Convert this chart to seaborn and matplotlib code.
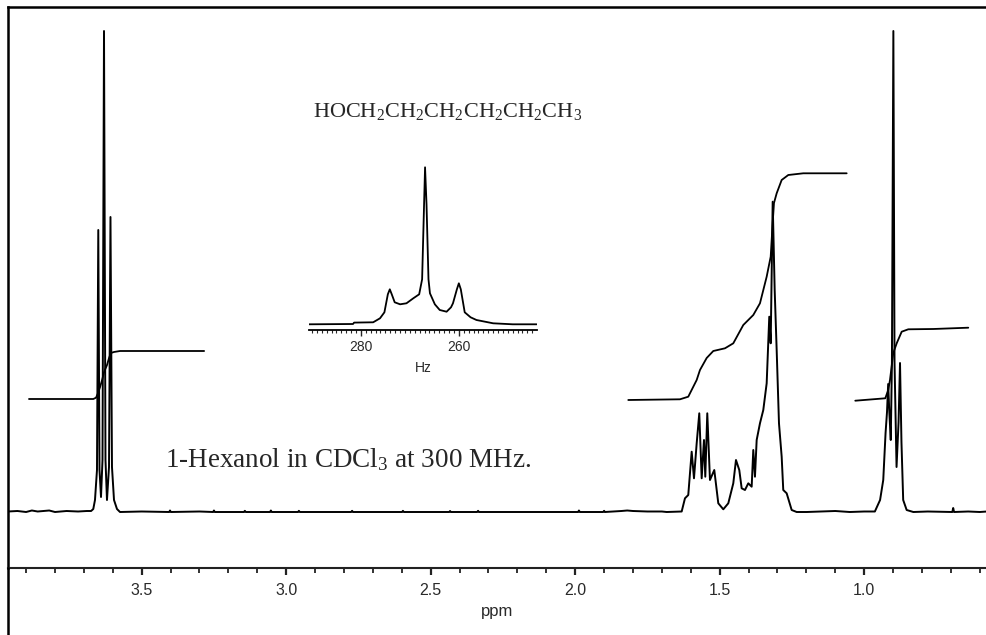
import numpy as np
import pandas as pd
import matplotlib
matplotlib.use("Agg")
import matplotlib.pyplot as plt
import seaborn as sns
from matplotlib.lines import Line2D
from matplotlib.ticker import MultipleLocator

# ---------------- data ----------------
# baseline with small noise spikes (ppm, intensity)
base_left_ppm = [3.963, 3.93, 3.90, 3.88, 3.86, 3.82, 3.80, 3.76, 3.72, 3.69, 3.675]
base_left_int = [0.5, 1.0, 0.0, 1.5, 0.5, 1.5, 0.0, 1.0, 0.5, 1.0, 1.0]

# CH2OH triplet near 3.63 ppm
t1_ppm = [3.6675, 3.6616, 3.6547, 3.6502, 3.6460, 3.6408, 3.6356, 3.6304, 3.6253,
          3.6201, 3.6131, 3.6080, 3.6028, 3.5958, 3.5855, 3.5751]
t1_int = [3, 12, 42, 282, 42, 15, 52, 481, 52, 12, 45, 295, 45, 12, 3, 0]

# baseline between 3.57 and 1.68 ppm
base_mid_ppm = [3.50, 3.405, 3.402, 3.399, 3.30, 3.253, 3.250, 3.247, 3.146, 3.143, 3.140,
                3.056, 3.053, 3.050, 2.959, 2.956, 2.953, 2.775, 2.772, 2.769,
                2.599, 2.596, 2.593, 2.436, 2.433, 2.430, 2.339, 2.336, 2.333,
                1.990, 1.987, 1.984, 1.903, 1.900, 1.897, 1.84, 1.82, 1.80, 1.75, 1.70]
base_mid_int = [0.5, 0, 1.5, 0, 0.5, 0, 1.5, 0, 0, 1.2, 0,
                0, 1.5, 0, 0, 1.2, 0, 0, 1.2, 0,
                0, 1.2, 0, 0, 1.0, 0, 0, 1.2, 0,
                0, 1.5, 0, 0, 1.2, 0, 1.0, 1.5, 1.0, 0.5, 0.5]

# CH2 multiplets 1.62 - 1.23 ppm
m_ppm = [1.6834, 1.6315, 1.6201, 1.6087, 1.5969, 1.5889, 1.5796, 1.5706, 1.5623, 1.5543,
         1.5498, 1.5429, 1.5336, 1.5187, 1.5048, 1.4875, 1.4702, 1.4529, 1.4436, 1.4322,
         1.4239, 1.4125, 1.4010, 1.3893, 1.3837, 1.3779, 1.3720, 1.3606, 1.3491, 1.3374,
         1.3284, 1.3235, 1.3166, 1.3097, 1.3028, 1.2948, 1.2855, 1.2800, 1.2682, 1.2509,
         1.2336, 1.1990]
m_int = [0, 0.5, 13.7, 17, 60.3, 33.7, 68.7, 98.7, 33.7, 72,
         35.3, 98.7, 32, 42, 8.7, 2.7, 8.7, 28.7, 52, 42,
         23.7, 22, 28.7, 25.3, 62, 35.3, 72, 88.7, 102, 128.7,
         195.3, 168.7, 310.3, 222, 162, 88.7, 55.3, 22, 18.7, 2,
         0, 0]

# baseline between 1.20 and 0.98 ppm
base_r_ppm = [1.15, 1.10, 1.05, 1.00, 0.98]
base_r_int = [0.5, 1.0, 0.0, 0.5, 0.5]

# CH3 triplet near 0.89 ppm
t2_ppm = [0.963, 0.945, 0.934, 0.926, 0.921, 0.917, 0.913, 0.908, 0.904, 0.899,
          0.895, 0.888, 0.881, 0.876, 0.871, 0.865, 0.853, 0.830]
t2_int = [0.5, 12, 32, 79, 100, 128, 100, 72, 150, 481,
          150, 45, 90, 149, 70, 12, 2, 0]

base_end_ppm = [0.78, 0.70, 0.695, 0.692, 0.689, 0.64, 0.60, 0.575]
base_end_int = [0.5, 0, 0, 4, 0, 0.5, 0, 0.5]

# integral traces (ppm, integral height)
int1_ppm = [3.890, 3.6675, 3.658, 3.651, 3.644, 3.637, 3.630, 3.620, 3.613, 3.6066, 3.596, 3.575, 3.284]
int1_val = [113, 113, 114.3, 119, 125, 132, 140, 147, 154, 159, 160, 161, 161]

int2_ppm = [1.8163, 1.6374, 1.6087, 1.5796, 1.5682, 1.5450, 1.5221, 1.4817, 1.4529, 1.4183,
            1.3837, 1.3606, 1.3374, 1.3235, 1.3166, 1.3121, 1.3028, 1.2855, 1.2626, 1.2107, 1.0606]
int2_val = [112, 112.7, 115.3, 132, 142, 154, 161, 163.7, 168.7, 187,
            197, 208.7, 235.3, 255.3, 289, 309, 318.7, 332, 337, 338.7, 338.7]

int3_ppm = [1.0308, 0.9270, 0.9166, 0.9107, 0.8993, 0.8875, 0.8702, 0.8474, 0.7609, 0.6398]
int3_val = [111.3, 113.7, 122, 132, 159, 168.7, 180.3, 182.7, 183, 184.3]

# inset: CH3 triplet in Hz
inset_hz = [290.6, 281.6, 281.4, 277.5, 276.1, 275.2, 274.5, 274.1, 273.7, 273.1, 272.0,
            270.7, 269.3, 268.1, 267.5, 267.1, 266.9, 266.6, 266.2, 265.9, 264.9, 263.9,
            262.5, 261.6, 261.2, 260.4, 260.0, 259.6, 258.8, 257.6, 256.4, 253.0, 249.0, 244.1]
inset_int = [0, 0.3, 1.7, 2, 6, 12, 30, 35, 30, 22, 20,
             21, 26, 30, 45, 120, 157, 120, 45, 31, 20, 14.3,
             12.6, 17, 21, 35, 41, 35, 12, 7, 4.3, 1, 0, 0]

main_ticks = [3.5, 3.0, 2.5, 2.0, 1.5, 1.0]
main_tick_labels = ["3.5", "3.0", "2.5", "2.0", "1.5", "1.0"]
inset_ticks = [280, 260]
inset_tick_labels = ["280", "260"]

formula = "HOCH$_2$CH$_2$CH$_2$CH$_2$CH$_2$CH$_3$"
caption = "1-Hexanol in CDCl$_3$ at 300 MHz."

# ---------------- plotting ----------------
sns.set_style("white")
plt.rcParams['font.family'] = ['Liberation Sans', 'DejaVu Sans']
plt.rcParams['mathtext.fontset'] = 'custom'
plt.rcParams['mathtext.rm'] = 'Liberation Serif'
plt.rcParams['mathtext.it'] = 'Liberation Serif:italic'
plt.rcParams['mathtext.bf'] = 'Liberation Serif:bold'

W, H = 987, 635
fig = plt.figure(figsize=(W / 100, H / 100), dpi=100)
fig.patch.set_facecolor('white')

def fx(px):
    return px / W

def fy(py):
    return 1 - py / H

ax = fig.add_axes([fx(8), fy(568), 1 - fx(8), fy(7) - fy(568)])
ax.set_facecolor('none')

spec = pd.DataFrame({
    "ppm": base_left_ppm + t1_ppm + base_mid_ppm + m_ppm + base_r_ppm + t2_ppm + base_end_ppm,
    "intensity": base_left_int + t1_int + base_mid_int + m_int + base_r_int + t2_int + base_end_int,
})
sns.lineplot(data=spec, x="ppm", y="intensity", sort=False, estimator=None,
             color="black", lw=1.4, ax=ax)

for xp, yv in [(int1_ppm, int1_val), (int2_ppm, int2_val), (int3_ppm, int3_val)]:
    sns.lineplot(x=xp, y=yv, sort=False, estimator=None, color="black", lw=1.3, ax=ax)

ax.set_xlim(3.9626, 0.575)
ax.set_ylim(-56, 505)
ax.set_yticks([])
ax.set_ylabel("")
ax.set_xticks(main_ticks)
ax.set_xticklabels(main_tick_labels)
ax.xaxis.set_minor_locator(MultipleLocator(0.1))
ax.tick_params(axis='x', which='major', direction='out', bottom=True, length=5, width=1.6,
               labelsize=11.5, pad=6, labelcolor='#2a2a2a', color='#222222')
ax.tick_params(axis='x', which='minor', direction='out', bottom=True, length=3.5, width=1.3,
               color='#222222')
ax.set_xlabel("ppm", fontsize=12, color='#2a2a2a', labelpad=4)
ax.spines["right"].set_visible(False)
ax.spines["top"].set_linewidth(1.8)
ax.spines["left"].set_linewidth(1.8)
ax.spines["bottom"].set_linewidth(1.5)
ax.spines["bottom"].set_color('#222222')
for s in ["top", "left"]:
    ax.spines[s].set_color('black')

# left frame continues below the axis
fig.add_artist(Line2D([fx(8), fx(8)], [0, fy(568)], color='black', lw=1.8))

# inset
ax_in = fig.add_axes([fx(309), fy(330), fx(536.7) - fx(309), fy(160) - fy(330)])
ax_in.set_facecolor('none')
sns.lineplot(x=inset_hz, y=inset_int, sort=False, estimator=None, color="black", lw=1.3, ax=ax_in)
ax_in.set_xlim(290.6, 244.1)
ax_in.set_ylim(-5.7, 164.3)
ax_in.set_yticks([])
ax_in.set_xticks(inset_ticks)
ax_in.set_xticklabels(inset_tick_labels)
ax_in.xaxis.set_minor_locator(MultipleLocator(1))
ax_in.tick_params(axis='x', which='major', direction='out', bottom=True, length=4.5, width=1.0,
                  labelsize=10, pad=3, labelcolor='#2a2a2a')
ax_in.tick_params(axis='x', which='minor', direction='out', bottom=True, length=2.5, width=0.8)
ax_in.set_xlabel("Hz", fontsize=10, color='#2a2a2a', labelpad=5)
ax_in.set_ylabel("")
for s in ["top", "left", "right"]:
    ax_in.spines[s].set_visible(False)
ax_in.spines["bottom"].set_linewidth(1.3)
ax_in.spines["bottom"].set_color('black')

fig.text(fx(313), fy(116.7), formula, family=['Liberation Serif', 'DejaVu Serif'],
         fontsize=16, ha='left', va='baseline')
fig.text(fx(165), fy(466.7), caption, family=['Liberation Serif', 'DejaVu Serif'],
         fontsize=19.5, ha='left', va='baseline')

fig.savefig("out.png", dpi=100)
